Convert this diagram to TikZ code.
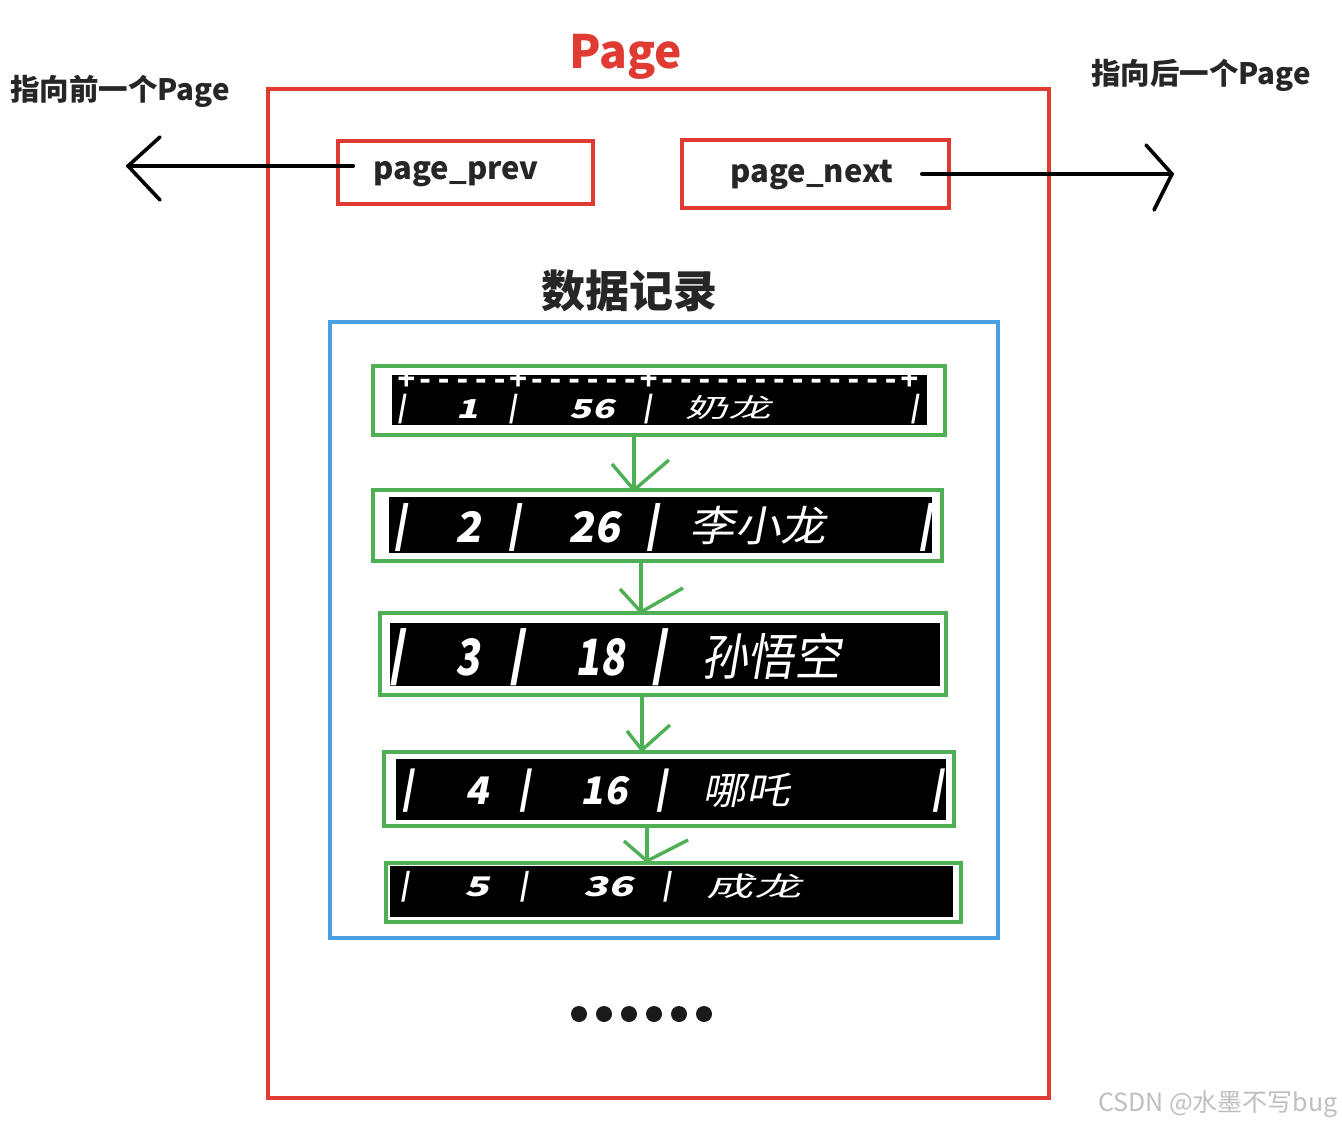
\documentclass[tikz,border=0pt]{standalone}
\usepackage{fontspec}
\setmainfont{Noto Sans CJK SC}
\newfontfamily\rowfont[FakeSlant=0.18]{Noto Sans CJK SC}
\newfontfamily\monofont{Liberation Mono}
\definecolor{pred}{HTML}{DF3B33}
\definecolor{pgreen}{HTML}{4FAF55}
\definecolor{pblue}{HTML}{4A9FE2}
\definecolor{pdot}{HTML}{1A1A1A}
\newcommand{\fs}[1]{\fontsize{#1}{#1}\selectfont}
\begin{document}
\begin{tikzpicture}[x=1pt,y=-1pt,
  redbox/.style={draw=pred,line width=3.6pt,inner sep=0pt,rectangle},
  bluebox/.style={draw=pblue,line width=3.4pt,inner sep=0pt,rectangle},
  greenbox/.style={draw=pgreen,line width=4pt,inner sep=0pt,rectangle},
  blackbar/.style={fill=black,inner sep=0pt,rectangle},
  gline/.style={draw=pgreen,line width=3.4pt},
  kline/.style={draw=black,line width=3.6pt,line cap=round,line join=round},
  rowtxt/.style={text=white,inner sep=0pt,anchor=center},
  lbl/.style={inner sep=0pt,anchor=center,text=black!85}]
\useasboundingbox[fill=white] (0,0) rectangle (1342,1126);

% outer page box and title
\node[redbox,minimum width=781pt,minimum height=1009pt] (page) at (658.5,593.5) {};
\node[inner sep=0pt,text=pred,font=\fs{46}\bfseries] (title) at (626,57) {Page};

% prev / next boxes
\node[redbox,minimum width=255pt,minimum height=63pt] (prev) at (465.5,172.5) {};
\node[lbl,font=\fs{31}\bfseries] (prevtxt) at (456,174) {page\_prev};
\node[redbox,minimum width=267pt,minimum height=68pt] (next) at (815.5,174) {};
\node[lbl,font=\fs{31}\bfseries] (nexttxt) at (812,175) {page\_next};

% side labels
\node[lbl,font=\fs{29.5}\bfseries] (prevlbl) at (120,91) {指向前一个Page};
\node[lbl,font=\fs{29.5}\bfseries] (nextlbl) at (1201,75) {指向后一个Page};

% arrows to previous / next page
\coordinate (ltip) at (128,166);
\coordinate (rtip) at (1172,174);
\draw[kline] ([shift={(17,-6.5)}]prev.west) -- (ltip);
\draw[kline] (160,137) -- (ltip) -- (160,200);
\draw[kline] ([xshift=-29]next.east) -- (rtip);
\draw[kline] (1146,145) -- (rtip) -- (1154,210);

% data records
\node[lbl,font=\fs{44}\bfseries] (rectitle) at (629,291) {数据记录};
\node[bluebox,minimum width=668pt,minimum height=616pt] (recs) at (664,630) {};

% row 1
\node[greenbox,minimum width=572pt,minimum height=69pt] (r1) at (659,400.5) {};
\node[blackbar,minimum width=535pt,minimum height=50pt] (b1) at (659.5,400) {};
\node[text=white,inner sep=0pt,anchor=base,font=\monofont\fs{32}\bfseries] (d1) at (658,389) {\scalebox{0.97}[1]{+-----+------+-------------+}};
\node[rowtxt,font=\rowfont\fs{26}\bfseries] at (402,409) {|};
\node[rowtxt,font=\rowfont\fs{26}\bfseries] at (468,409) {\scalebox{1.4}[1]{1}};
\node[rowtxt,font=\rowfont\fs{26}\bfseries] at (513,409) {|};
\node[rowtxt,font=\rowfont\fs{26}\bfseries] at (592,409) {\scalebox{1.4}[1]{56}};
\node[rowtxt,font=\rowfont\fs{26}\bfseries] at (648,409) {|};
\node[rowtxt,font=\rowfont\fs{26}] at (728,408) {\scalebox{1.65}[1]{奶龙}};
\node[rowtxt,font=\rowfont\fs{26}\bfseries] at (915,409) {|};

% row 2
\node[greenbox,minimum width=569pt,minimum height=71pt] (r2) at (657.5,525.5) {};
\node[blackbar,minimum width=543pt,minimum height=56pt] (b2) at (660.5,525) {};
\node[rowtxt,font=\rowfont\fs{42}\bfseries] at (400,527) {|};
\node[rowtxt,font=\rowfont\fs{42}\bfseries] at (468,527) {2};
\node[rowtxt,font=\rowfont\fs{42}\bfseries] at (514,527) {|};
\node[rowtxt,font=\rowfont\fs{42}\bfseries] at (594,527) {26};
\node[rowtxt,font=\rowfont\fs{42}\bfseries] at (652,527) {|};
\node[rowtxt,font=\rowfont\fs{42}] at (758,526) {\scalebox{1.08}[1]{李小龙}};
\node[rowtxt,font=\rowfont\fs{42}\bfseries] at (925,527) {|};

% row 3
\node[greenbox,minimum width=566pt,minimum height=82pt] (r3) at (663,654) {};
\node[blackbar,minimum width=550pt,minimum height=63pt] (b3) at (665,654.5) {};
\node[rowtxt,font=\rowfont\fs{50}\bfseries] at (396,657) {|};
\node[rowtxt,font=\rowfont\fs{50}\bfseries] at (468,657) {\scalebox{0.8}[1]{3}};
\node[rowtxt,font=\rowfont\fs{50}\bfseries] at (516,657) {|};
\node[rowtxt,font=\rowfont\fs{50}\bfseries] at (600,657) {\scalebox{0.8}[1]{18}};
\node[rowtxt,font=\rowfont\fs{50}\bfseries] at (658,657) {|};
\node[rowtxt,font=\rowfont\fs{50}] at (771,656) {\scalebox{0.93}[1]{孙悟空}};

% row 4
\node[greenbox,minimum width=570pt,minimum height=74pt] (r4) at (669,789) {};
\node[blackbar,minimum width=550pt,minimum height=61pt] (b4) at (671,789.5) {};
\node[rowtxt,font=\rowfont\fs{38}\bfseries] at (407,791) {|};
\node[rowtxt,font=\rowfont\fs{38}\bfseries] at (477,791) {4};
\node[rowtxt,font=\rowfont\fs{38}\bfseries] at (524,791) {|};
\node[rowtxt,font=\rowfont\fs{38}\bfseries] at (604,791) {16};
\node[rowtxt,font=\rowfont\fs{38}\bfseries] at (661,791) {|};
\node[rowtxt,font=\rowfont\fs{38}] at (746,790) {\scalebox{1.15}[1]{哪吒}};
\node[rowtxt,font=\rowfont\fs{38}\bfseries] at (937,791) {|};

% row 5
\node[greenbox,minimum width=575pt,minimum height=59pt] (r5) at (673.5,892.5) {};
\node[blackbar,minimum width=563pt,minimum height=51pt] (b5) at (671.5,891.5) {};
\node[rowtxt,font=\rowfont\fs{27}\bfseries] at (405,887) {|};
\node[rowtxt,font=\rowfont\fs{27}\bfseries] at (477,887) {\scalebox{1.5}[1]{5}};
\node[rowtxt,font=\rowfont\fs{27}\bfseries] at (524,887) {|};
\node[rowtxt,font=\rowfont\fs{27}\bfseries] at (608,887) {\scalebox{1.5}[1]{36}};
\node[rowtxt,font=\rowfont\fs{27}\bfseries] at (667,887) {|};
\node[rowtxt,font=\rowfont\fs{27}] at (754,886) {\scalebox{1.75}[1]{成龙}};

% green links between records
\coordinate (a1) at (634,0);
\coordinate (a2) at (641,0);
\coordinate (a3) at (642,0);
\coordinate (a4) at (647,0);
\draw[gline] (r1.south -| a1) -- (r2.north -| a1);
\draw[gline] ([shift={(-22,-24)}]r2.north -| a1) -- ([yshift=-2]r2.north -| a1) -- ([shift={(35,-28)}]r2.north -| a1);
\draw[gline] (r2.south -| a2) -- (r3.north -| a2);
\draw[gline] ([shift={(-21,-22)}]r3.north -| a2) -- ([yshift=-1]r3.north -| a2) -- ([shift={(42,-23)}]r3.north -| a2);
\draw[gline] (r3.south -| a3) -- (r4.north -| a3);
\draw[gline] ([shift={(-15,-19)}]r4.north -| a3) -- (r4.north -| a3) -- ([shift={(28,-25)}]r4.north -| a3);
\draw[gline] (r4.south -| a4) -- (r5.north -| a4);
\draw[gline] ([shift={(-23,-20)}]r5.north -| a4) -- (r5.north -| a4) -- ([shift={(41,-21)}]r5.north -| a4);

% ellipsis dots
\foreach \i in {0,...,5} {
  \fill[pdot] (579+25*\i,1014) circle (8);
}

% watermark
\node[inner sep=0pt,text=black!25,font=\fs{25}] (wm) at (1218,1104) {CSDN @水墨不写bug};
\end{tikzpicture}
\end{document}
